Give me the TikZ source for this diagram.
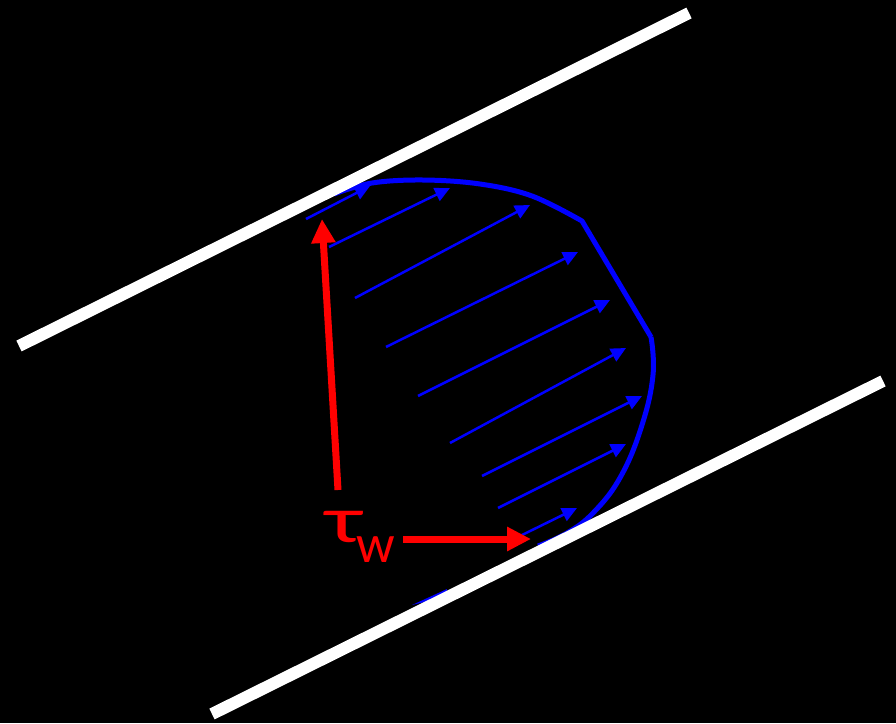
\documentclass[tikz,border=0pt]{standalone}
\usepackage{fontspec}
\newfontfamily\labelfont{Carlito}
\usetikzlibrary{arrows.meta}
\tikzset{
  wall/.style={white, line width=12pt, line cap=butt},
  profile/.style={blue, line width=5pt, line join=round},
  vel/.style={blue, line width=2.5pt, -{Triangle[length=15pt,width=14pt]}},
  shear/.style={red, line width=7pt, -{Triangle[length=24pt,width=23pt]}},
  lbl/.style={text=red, inner sep=0pt, font=\labelfont\fontsize{66}{66}\selectfont}
}
\begin{document}
\begin{tikzpicture}[x=1pt,y=-1pt]
\fill[black] (0,0) rectangle (896,723);
\useasboundingbox (0,0) rectangle (896,723);
% hidden blue fragment below lower wall
\fill[blue] (412,605) -- (447,589) -- (446,597) -- cycle;
% velocity profile
\draw[profile] plot[smooth, tension=0.6] coordinates {(334,194) (372,183) (423,180) (480,184) (532,196) (582,221)}
  -- (651,337)
  plot[smooth, tension=0.7] coordinates {(651,337) (653,375) (642,425) (621,476) (594,512) (567,533) (538,546)};
% velocity arrows
\coordinate (s1) at (306,219); \coordinate (t1) at (370,186);
\coordinate (s2) at (329,247); \coordinate (t2) at (450,188);
\coordinate (s3) at (355,298); \coordinate (t3) at (530,205);
\coordinate (s4) at (386,347); \coordinate (t4) at (578,252);
\coordinate (s5) at (418,396); \coordinate (t5) at (610,300);
\coordinate (s6) at (450,443); \coordinate (t6) at (626,348);
\coordinate (s7) at (482,476); \coordinate (t7) at (642,396);
\coordinate (s8) at (498,508); \coordinate (t8) at (626,444);
\coordinate (s9) at (522,535); \coordinate (t9) at (577,508);
\foreach \i in {1,...,9} { \draw[vel] (s\i) -- (t\i); }
% walls
\coordinate (uw1) at (19,346); \coordinate (uw2) at (689,13);
\coordinate (lw1) at (212,714); \coordinate (lw2) at (883,381);
\draw[wall] (uw1) -- (uw2);
\draw[wall] (lw1) -- (lw2);
% shear stress arrows and label
\node[lbl, anchor=base west] (tauw) at (325,542) {\scalebox{1.45}[1]{τ}\kern-6pt\raisebox{-20pt}{\fontsize{54}{54}\selectfont w}};
\coordinate (v0) at (338,490); \coordinate (v1) at (322,219);
\coordinate (h0) at (403,539); \coordinate (h1) at (531,539);
\draw[shear] (v0) -- (v1);
\draw[shear] (h0) -- (h1);
\end{tikzpicture}
\end{document}
